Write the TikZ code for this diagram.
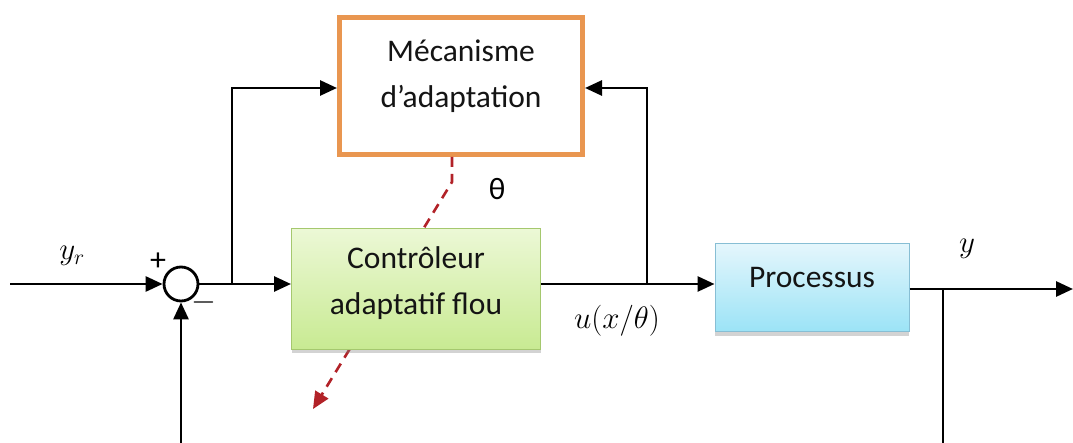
\RequirePackage{fix-cm}
\documentclass[tikz,border=0pt]{standalone}
\usepackage{fontspec}
\setmainfont{Carlito}
\usetikzlibrary{arrows.meta,shadows,calc}
\definecolor{orangeb}{RGB}{233,150,80}
\definecolor{greentop}{RGB}{236,248,214}
\definecolor{greenbot}{RGB}{200,234,146}
\definecolor{greenline}{RGB}{165,200,110}
\definecolor{cyantop}{RGB}{228,246,252}
\definecolor{cyanbot}{RGB}{155,227,246}
\definecolor{cyanline}{RGB}{135,190,212}
\definecolor{dashred}{RGB}{178,34,40}
\tikzset{
  x=1pt,y=-1pt,
  wire/.style={line width=2.8pt,black},
  arr/.style={wire,-{Triangle[length=17pt,width=15pt]}},
  txt/.style={font=\fontsize{31.5}{46}\selectfont,align=center,text=black!92},
  mechbox/.style={draw=orangeb,line width=5pt,fill=white,minimum width=243pt,minimum height=137pt,inner sep=0pt},
  ctrlbox/.style={draw=greenline,line width=1pt,top color=greentop,bottom color=greenbot,minimum width=249pt,minimum height=121pt,inner sep=0pt,
    drop shadow={shadow xshift=0pt,shadow yshift=-4pt,opacity=0.35,fill=gray}},
  procbox/.style={draw=cyanline,line width=1pt,top color=cyantop,bottom color=cyanbot,minimum width=194pt,minimum height=88pt,inner sep=0pt,
    drop shadow={shadow xshift=0pt,shadow yshift=-4pt,opacity=0.35,fill=gray}},
  sumnode/.style={circle,draw,line width=2.8pt,minimum size=34pt,inner sep=0pt,fill=white},
  lab/.style={font=\fontsize{31}{36}\selectfont},
}
\begin{document}
\begin{tikzpicture}
\useasboundingbox (0,0) rectangle (1073,443);
% nodes
\node[mechbox] (mech) at (461,86) {};
\node[txt] (mechtxt) at (461,76) {Mécanisme\\d’adaptation};
\node[sumnode] (sum) at (181,284) {};
\coordinate (in) at (10,284);
\coordinate (junL) at (232,284);
\coordinate (topL) at (232,88);
\coordinate (junR) at (647,284);
\coordinate (topR) at (647,88);
\coordinate (junO) at (943,289);
\coordinate (out) at (1073,289);
\coordinate (botO) at (943,443);
\coordinate (botS) at (181,443);
% dashed adaptation arrow (behind controller)
\coordinate (dbend) at (452,182);
\coordinate (dend) at (313,409);
\draw[dashred,line width=2.6pt,dash pattern=on 10pt off 7pt,-{Triangle[length=17pt,width=15pt]}]
  (mech.south -| dbend) -- (dbend) -- (dend);
\node[ctrlbox] (ctrl) at (416,289) {};
\node[txt] (ctrltxt) at (416,283) {Contrôleur\\adaptatif flou};
\node[procbox] (proc) at (812,288) {};
\node[txt] (proctxt) at (812,278) {Processus};
% connectors
\draw[arr] (in) -- (sum.west);
\draw[arr] (sum.east) -- (ctrl.west |- sum.east);
\draw[arr] (junL) -- (topL) -- (mech.west |- topL);
\draw[arr] (ctrl.east |- junR) -- (proc.west |- junR);
\draw[arr] (junR) -- (topR) -- (mech.east |- topR);
\draw[arr] (proc.east |- junO) -- (out);
\draw[wire] (junO) -- (botO);
\draw[arr] (botS) -- (sum.south);
% labels
\node[lab] (yr) at (72,256) {$y_r$};
\node[font=\fontsize{32}{36}\selectfont] (plus) at (158,262) {+};
\node[font=\fontsize{32}{36}\selectfont] (minus) at (204,303) {$-$};
\node[lab] (theta) at (497,189) {θ};
\node[lab] (u) at (617,321) {$u(x/\theta)$};
\node[lab] (y) at (967,249) {$y$};
\end{tikzpicture}
\end{document}
